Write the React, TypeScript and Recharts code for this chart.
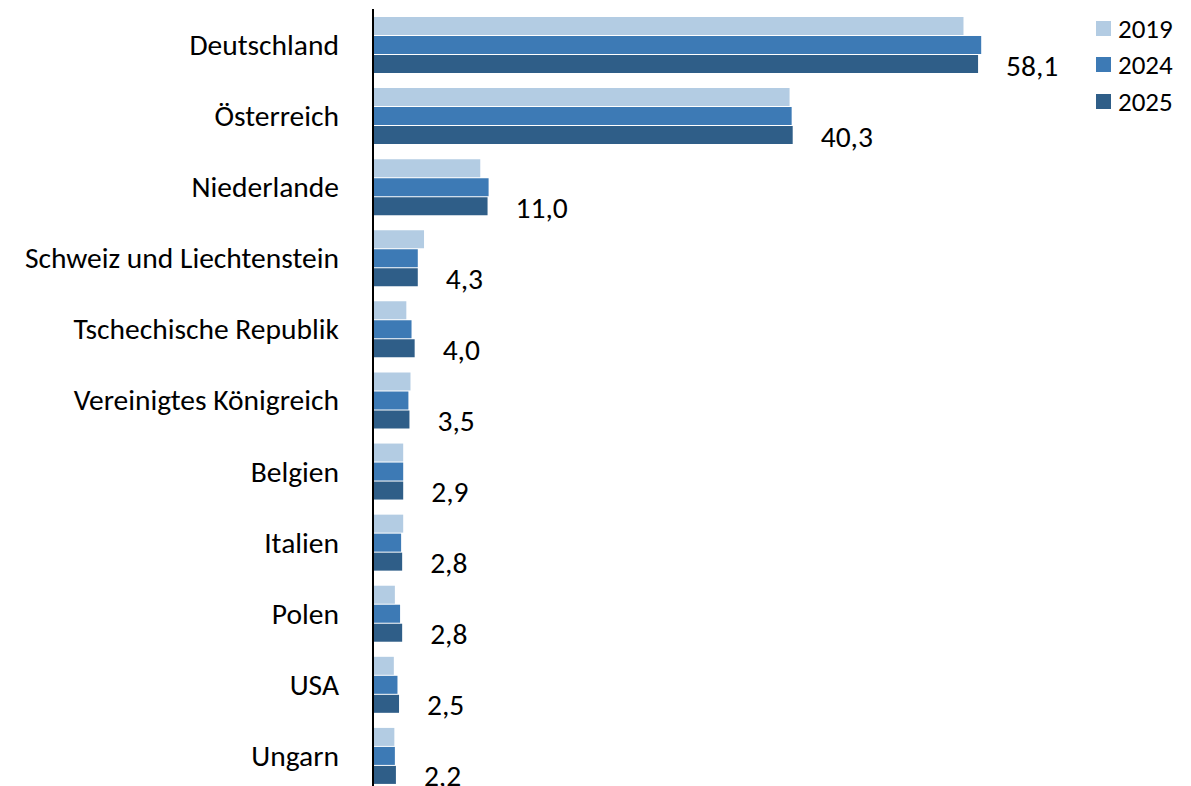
import React from 'react';
import { BarChart, Bar, XAxis, YAxis, Legend, LabelList } from 'recharts';

const categories = [
  'Deutschland',
  'Österreich',
  'Niederlande',
  'Schweiz und Liechtenstein',
  'Tschechische Republik',
  'Vereinigtes Königreich',
  'Belgien',
  'Italien',
  'Polen',
  'USA',
  'Ungarn',
];
const values2019 = [56.7, 40.0, 10.3, 4.9, 3.2, 3.6, 2.9, 2.9, 2.1, 2.0, 2.05];
const values2024 = [58.4, 40.2, 11.1, 4.3, 3.7, 3.4, 2.9, 2.7, 2.6, 2.35, 2.1];
const values2025 = [58.1, 40.3, 11.0, 4.3, 4.0, 3.5, 2.9, 2.8, 2.8, 2.5, 2.2];
const seriesKeys = ['y2019', 'y2024', 'y2025'];
const seriesNames = ['2019', '2024', '2025'];
const colors = ['#B3CCE3', '#3D7AB5', '#2F5E88'];

const data = categories.map((name, i) => ({
  name,
  y2019: values2019[i],
  y2024: values2024[i],
  y2025: values2025[i],
}));

const FONT = 'Calibri, Carlito, Lato, sans-serif';

const renderValueLabel = (props: any) => {
  const { x, y, width, height, value } = props;
  return (
    <text
      x={x + width + 28}
      y={y + height / 2 + 1.5}
      dominantBaseline="central"
      textAnchor="start"
      fontFamily={FONT}
      fontSize={29.5}
      fill="#000"
    >
      {Number(value).toFixed(1).replace('.', ',')}
    </text>
  );
};

const renderLegend = () => (
  <div style={{ fontFamily: FONT }}>
    {seriesNames.map((n, i) => (
      <div
        key={n}
        style={{ display: 'flex', alignItems: 'center', height: 36.5 }}
      >
        <div style={{ width: 15, height: 15, background: colors[i], marginRight: 7 }} />
        <span style={{ fontSize: 27, color: '#000', lineHeight: '27px' }}>{n}</span>
      </div>
    ))}
  </div>
);

export default function App() {
  return (
    <div style={{ position: 'absolute', left: 0, top: 0, width: 1191, height: 786, overflow: 'hidden', background: '#fff' }}>
      <BarChart
        width={1191}
        height={800}
        data={data}
        layout="vertical"
        margin={{ top: 9, bottom: 9, left: 0, right: -1 }}
        barSize={18}
        barGap={1}
      >
        <XAxis type="number" domain={[0, 70]} hide />
        <YAxis
          type="category"
          dataKey="name"
          width={373}
          axisLine={{ stroke: '#000', strokeWidth: 2 }}
          tickLine={false}
          tickSize={6}
          tickMargin={28}
          interval={0}
          tick={{ fontFamily: FONT, fontSize: 29.5, fill: '#000' }}
        />
        <Legend
          layout="vertical"
          verticalAlign="top"
          align="right"
          content={renderLegend}
          wrapperStyle={{ position: 'absolute', left: 1096, top: 10, width: 90 }}
        />
        {seriesKeys.map((k, i) => (
          <Bar key={k} dataKey={k} name={seriesNames[i]} fill={colors[i]} isAnimationActive={false}>
            {i === 2 ? <LabelList dataKey={k} content={renderValueLabel} /> : null}
          </Bar>
        ))}
      </BarChart>
    </div>
  );
}
